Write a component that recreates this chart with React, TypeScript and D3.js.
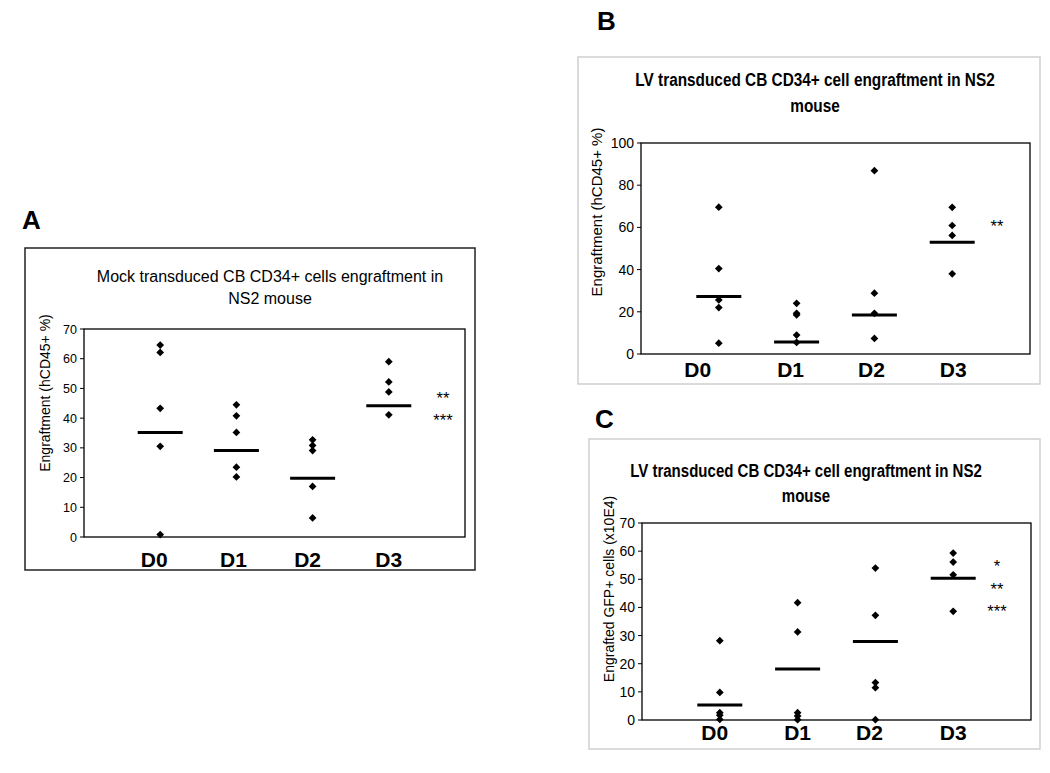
import React from "react";
import * as d3 from "d3";

// ---------- data ----------
const categories = ["D0", "D1", "D2", "D3"];

const mockD0 = [64.6, 62.1, 43.3, 30.5, 0.8];
const mockD1 = [44.5, 40.8, 35.2, 23.5, 20.2];
const mockD2 = [32.7, 30.8, 29.1, 17.0, 6.4];
const mockD3 = [59.0, 52.2, 48.8, 41.1];
const mockMeans = [35.2, 29.1, 19.8, 44.2];
const mockTicks = [0, 10, 20, 30, 40, 50, 60, 70];

const lvPctD0 = [69.6, 40.5, 25.6, 22.0, 5.1];
const lvPctD1 = [24.0, 19.3, 18.5, 9.0, 5.5];
const lvPctD2 = [86.9, 28.8, 19.3, 7.4];
const lvPctD3 = [69.5, 60.9, 56.2, 38.0];
const lvPctMeans = [27.2, 5.7, 18.5, 53.0];
const lvPctTicks = [0, 20, 40, 60, 80, 100];

const gfpD0 = [28.2, 9.8, 2.6, 1.7, 0.2];
const gfpD1 = [41.7, 31.3, 2.6, 1.4, 0.1];
const gfpD2 = [54.0, 37.2, 13.3, 11.5, 0.1];
const gfpD3 = [59.3, 56.1, 51.6, 38.6];
const gfpMeans = [5.3, 18.1, 27.9, 50.4];
const gfpTicks = [0, 10, 20, 30, 40, 50, 60, 70];

const mockStars = ["**", "***"];
const mockStarLevels = [47.8, 40.4];
const lvPctStars = ["**"];
const lvPctStarLevels = [62.1];
const gfpStars = ["*", "**", "***"];
const gfpStarLevels = [55.8, 47.6, 39.8];

// ---------- panel layouts ----------
type PanelCfg = {
  letter: string;
  letterX: number;
  letterY: number;
  box: { x: number; y: number; w: number; h: number; stroke: string; sw: number };
  plot: { l: number; t: number; r: number; b: number };
  yMax: number;
  ticks: number[];
  series: number[][];
  means: number[];
  title: string[];
  titleX: number;
  titleY: number[];
  titleBold: boolean;
  titleSize: number;
  titleScale: number;
  yLabel: string;
  yLabelX: number;
  yLabelY: number;
  yLabelSize: number;
  xLabelY: number;
  xLabelDx: number[];
  stars: string[];
  starLevels: number[];
  starX: number;
  tickSize: number;
};

const panels: PanelCfg[] = [
  {
    letter: "A",
    letterX: 22,
    letterY: 229,
    box: { x: 25, y: 248, w: 450, h: 322, stroke: "#222", sw: 1.5 },
    plot: { l: 84, t: 329, r: 465, b: 537 },
    yMax: 70,
    ticks: mockTicks,
    series: [mockD0, mockD1, mockD2, mockD3],
    means: mockMeans,
    title: ["Mock transduced CB CD34+ cells engraftment in", "NS2 mouse"],
    titleX: 270,
    titleY: [282, 304],
    titleBold: false,
    titleSize: 16,
    titleScale: 1,
    yLabel: "Engraftment (hCD45+ %)",
    yLabelX: 45,
    yLabelY: 393,
    yLabelSize: 14,
    xLabelY: 567,
    xLabelDx: [-6, -3, -5, 0],
    stars: mockStars,
    starLevels: mockStarLevels,
    starX: 443,
    tickSize: 12.5,
  },
  {
    letter: "B",
    letterX: 597,
    letterY: 30,
    box: { x: 578, y: 57, w: 462, h: 327, stroke: "#cfcfcf", sw: 1.5 },
    plot: { l: 641, t: 143, r: 1030, b: 354 },
    yMax: 100,
    ticks: lvPctTicks,
    series: [lvPctD0, lvPctD1, lvPctD2, lvPctD3],
    means: lvPctMeans,
    title: ["LV transduced CB CD34+ cell engraftment in NS2", "mouse"],
    titleX: 815,
    titleY: [86, 112],
    titleBold: true,
    titleSize: 18.5,
    titleScale: 0.83,
    yLabel: "Engraftment (hCD45+ %)",
    yLabelX: 597,
    yLabelY: 212,
    yLabelSize: 15,
    xLabelY: 377,
    xLabelDx: [-21, -6, -3, 1],
    stars: lvPctStars,
    starLevels: lvPctStarLevels,
    starX: 997,
    tickSize: 14,
  },
  {
    letter: "C",
    letterX: 595,
    letterY: 428,
    box: { x: 589, y: 439, w: 451, h: 310, stroke: "#cfcfcf", sw: 1.5 },
    plot: { l: 642, t: 523, r: 1031, b: 720 },
    yMax: 70,
    ticks: gfpTicks,
    series: [gfpD0, gfpD1, gfpD2, gfpD3],
    means: gfpMeans,
    title: ["LV transduced CB CD34+ cell engraftment in NS2", "mouse"],
    titleX: 806,
    titleY: [477, 502],
    titleBold: true,
    titleSize: 18,
    titleScale: 0.835,
    yLabel: "Engrafted GFP+ cells (x10E4)",
    yLabelX: 609,
    yLabelY: 589,
    yLabelSize: 14,
    xLabelY: 740,
    xLabelDx: [-5, 0, -6, 0],
    stars: gfpStars,
    starLevels: gfpStarLevels,
    starX: 997,
    tickSize: 14,
  },
];

const FONT = "'Liberation Sans', Arial, Helvetica, sans-serif";
const diamond = d3.symbol(d3.symbolSquare, 30)() as string;

function Panel({ cfg }: { cfg: PanelCfg }) {
  const { plot } = cfg;
  const x = d3.scalePoint<string>().domain(categories).range([plot.l, plot.r]).padding(1);
  const y = d3.scaleLinear().domain([0, cfg.yMax]).range([plot.b, plot.t]);
  const meanHalf = 22.5;
  return (
    <g>
      <text x={cfg.letterX} y={cfg.letterY} fontFamily={FONT} fontWeight="bold" fontSize={26} fill="#000">
        {cfg.letter}
      </text>
      <rect
        x={cfg.box.x}
        y={cfg.box.y}
        width={cfg.box.w}
        height={cfg.box.h}
        fill="#fff"
        stroke={cfg.box.stroke}
        strokeWidth={cfg.box.sw}
      />
      {cfg.title.map((t, i) => (
        <text
          key={i}
          transform={`translate(${cfg.titleX},${cfg.titleY[i]}) scale(${cfg.titleScale},1)`}
          textAnchor="middle"
          fontFamily={FONT}
          fontWeight={cfg.titleBold ? "bold" : "normal"}
          fontSize={cfg.titleSize}
          fill="#000"
        >
          {t}
        </text>
      ))}
      <rect
        x={plot.l}
        y={plot.t}
        width={plot.r - plot.l}
        height={plot.b - plot.t}
        fill="none"
        stroke="#000"
        strokeWidth={1.3}
      />
      {cfg.ticks.map((t) => (
        <g key={t}>
          <line x1={plot.l - 4} x2={plot.l} y1={y(t)} y2={y(t)} stroke="#000" strokeWidth={1} />
          <text
            x={plot.l - 7}
            y={y(t)}
            dy="0.36em"
            textAnchor="end"
            fontFamily={FONT}
            fontSize={cfg.tickSize}
            fill="#000"
          >
            {t}
          </text>
        </g>
      ))}
      <text
        transform={`translate(${cfg.yLabelX},${cfg.yLabelY}) rotate(-90)`}
        textAnchor="middle"
        dy="0.35em"
        fontFamily={FONT}
        fontSize={cfg.yLabelSize}
        fill="#000"
      >
        {cfg.yLabel}
      </text>
      {categories.map((c, i) => (
        <text
          key={c}
          x={(x(c) as number) + cfg.xLabelDx[i]}
          y={cfg.xLabelY}
          textAnchor="middle"
          fontFamily={FONT}
          fontWeight="bold"
          fontSize={21}
          fill="#000"
        >
          {c}
        </text>
      ))}
      {cfg.series.map((vals, i) =>
        vals.map((v, j) => (
          <path
            key={`${i}-${j}`}
            d={diamond}
            transform={`translate(${x(categories[i])},${y(v)}) rotate(45)`}
            fill="#000"
          />
        ))
      )}
      {cfg.means.map((m, i) => (
        <line
          key={i}
          x1={(x(categories[i]) as number) - meanHalf}
          x2={(x(categories[i]) as number) + meanHalf}
          y1={y(m)}
          y2={y(m)}
          stroke="#000"
          strokeWidth={3}
        />
      ))}
      {cfg.stars.map((s, i) => (
        <text
          key={i}
          x={cfg.starX}
          y={y(cfg.starLevels[i])}
          dy="0.55em"
          textAnchor="middle"
          fontFamily={FONT}
          fontSize={16.5}
          fill="#000"
        >
          {s}
        </text>
      ))}
    </g>
  );
}

export default function App() {
  return (
    <svg
      width={1050}
      height={773}
      style={{ position: "absolute", left: 0, top: 0, background: "#fff" }}
    >
      <rect x={0} y={0} width={1050} height={773} fill="#fff" />
      {panels.map((p) => (
        <Panel key={p.letter} cfg={p} />
      ))}
    </svg>
  );
}
